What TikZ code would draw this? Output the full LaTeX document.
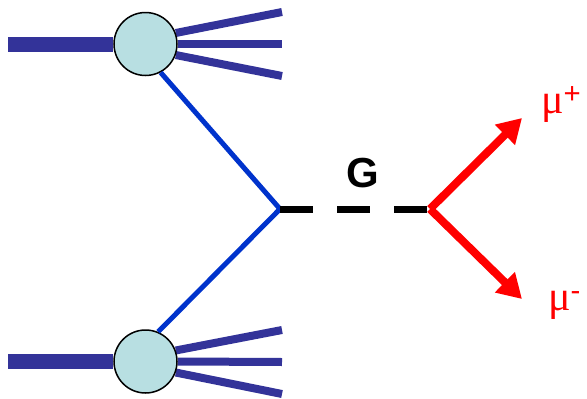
\documentclass[tikz,border=0pt]{standalone}
\usepackage{fontspec}
\setmainfont{Liberation Sans}
\newfontfamily\greekfont{Liberation Serif}
\usetikzlibrary{arrows.meta,backgrounds}
\definecolor{beamblue}{RGB}{51,51,153}
\definecolor{partonblue}{RGB}{0,51,204}
\definecolor{blobfill}{RGB}{184,223,226}

\begin{document}
\begin{tikzpicture}[x=1pt,y=-1pt,
  blob/.style={circle,draw,fill=blobfill,line width=1.5pt,minimum size=63pt,inner sep=0pt},
  beam/.style={beamblue,line width=15pt},
  jet/.style={beamblue,line width=8pt},
  parton/.style={partonblue,line width=5pt},
  graviton/.style={line width=7pt,dash pattern=on 33pt off 24pt},
  muon/.style={red,line width=8pt,-{Triangle[length=24pt,width=27pt]}},
  lbl/.style={inner sep=0pt}]
\useasboundingbox (0,0) rectangle (587,399);
\node [blob] (pa) at (145.5,44) {};
\node [blob] (pb) at (145.5,361.5) {};
\coordinate (vtx) at (280,209);
\coordinate (dec) at (430,209);
% beam remnants
\coordinate (ina) at (8,44);
\coordinate (inb) at (8,361.5);
\coordinate (ja1) at (282,12);
\coordinate (ja2) at (282,44);
\coordinate (ja3) at (282,76);
\coordinate (jb1) at (282,330);
\coordinate (jb2) at (282,362);
\coordinate (jb3) at (282,394);
\coordinate (mup) at (522,118);
\coordinate (mum) at (522,299);
\begin{scope}[on background layer]
\draw [beam] (ina) -- (pa.west);
\draw [beam] (inb) -- (pb.west);
\draw [jet] (pa.20) -- (ja1);
\draw [jet] (pa.east) -- (ja2);
\draw [jet] (pa.-20) -- (ja3);
\draw [jet] (pb.20) -- (jb1);
\draw [jet] (pb.east) -- (jb2);
\draw [jet] (pb.-20) -- (jb3);
\end{scope}
\draw [parton] (pa.-62) -- (vtx) -- (pb.67);
\draw [graviton] (vtx) -- (dec);
\draw [muon] (dec) -- (mup);
\draw [muon] (dec) -- (mum);
\node [lbl,font=\bfseries\fontsize{42}{42}\selectfont] (glbl) at (363,173) {G};
\node [lbl,anchor=base west,red,font=\fontsize{42}{42}\selectfont] (mplbl) at (541,113) {{\greekfont μ}\textsuperscript{+}};
\node [lbl,anchor=base west,red,font=\fontsize{42}{42}\selectfont] (mmlbl) at (548,310) {{\greekfont μ}\textsuperscript{-}};
\end{tikzpicture}
\end{document}
